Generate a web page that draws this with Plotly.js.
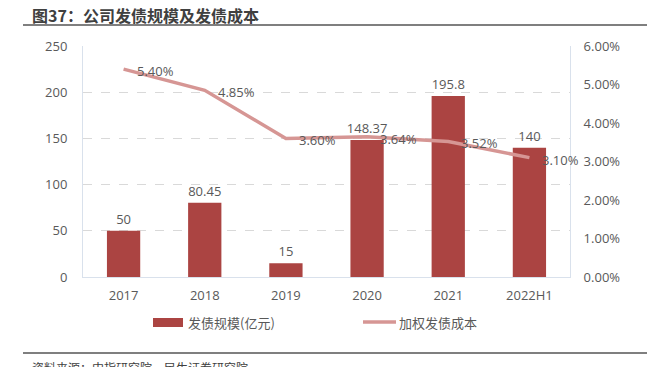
<!DOCTYPE html>
<html><head><meta charset="utf-8">
<script src="https://cdn.plot.ly/plotly-3.0.1.min.js"></script>
<style>body{margin:0;background:#fff}#c{width:647px;height:367px}</style>
</head><body><div id="c"></div>
<script>
const categories = ['2017','2018','2019','2020','2021','2022H1'];
const issueSize = [50, 80.45, 15, 148.37, 195.8, 140];
const issueSizeLabels = ['50','80.45','15','148.37','195.8','140'];
const weightedCost = [0.054, 0.0485, 0.036, 0.0364, 0.0352, 0.031];
const weightedCostLabels = ['5.40%','4.85%','3.60%','3.64%','3.52%','3.10%'];
const seriesNames = ['发债规模(亿元)', '加权发债成本'];

const F = '"Open Sans", "Noto Sans CJK SC", sans-serif';
const CJK = '"Noto Sans CJK SC", sans-serif';
const txt = '#595959';
const barColor = '#AB4442', lineColor = '#D69694';
const traces = [
  {type:'bar', x:categories, y:issueSize, name:seriesNames[0], width:0.41,
   marker:{color:barColor}, text:issueSizeLabels, textposition:'outside', constraintext:'none',
   textfont:{family:F,size:13,color:txt}, cliponaxis:false, hoverinfo:'none'},
  {type:'scatter', mode:'lines', x:categories, y:weightedCost, yaxis:'y2',
   name:seriesNames[1], line:{color:lineColor, width:3.5}, hoverinfo:'none'}
];
const W = 487, H = 231;
const px = x => (x-83)/W, py = y => (277-y)/H;
const ann = weightedCost.map((v,i) => ({x:i, y:v, xref:'x', yref:'y2', text:weightedCostLabels[i],
  showarrow:false, xanchor:'left', yanchor:'middle', xshift:11, yshift:-2, font:{family:F,size:13,color:txt}}));
ann.push(
  {xref:'paper', yref:'paper', x:px(30), y:py(15), xanchor:'left', yanchor:'middle', showarrow:false,
   text:'<b>图37：公司发债规模及发债成本</b>', font:{family:CJK, size:16, color:'#404040'}},
  {xref:'paper', yref:'paper', x:px(30), y:py(367), xanchor:'left', yanchor:'middle', showarrow:false,
   text:'资料来源：中指研究院，民生证券研究院', font:{family:CJK, size:12, color:'#404040'}},
  {xref:'paper', yref:'paper', x:px(186), y:py(322), xanchor:'left', yanchor:'middle', showarrow:false,
   text:seriesNames[0], font:{family:CJK, size:13, color:txt}},
  {xref:'paper', yref:'paper', x:px(397), y:py(322), xanchor:'left', yanchor:'middle', showarrow:false,
   text:seriesNames[1], font:{family:CJK, size:13, color:txt}}
);
const layout = {
  width:647, height:367, margin:{l:83,r:77,t:46,b:90},
  paper_bgcolor:'#fff', plot_bgcolor:'#fff', showlegend:false,
  font:{family:F,size:13,color:txt},
  xaxis:{type:'category', range:[-0.5,5.5], tickfont:{family:F,size:13,color:txt}, showline:true,
         linecolor:'#D9E1EC', linewidth:1, ticks:'outside', ticklen:6, tickcolor:'rgba(0,0,0,0)', showgrid:false},
  yaxis:{range:[0,250], dtick:50, tickfont:{family:F,size:13,color:txt},
         showgrid:true, gridcolor:'#D9D9D9', griddash:'dash', gridwidth:1,
         showline:true, linecolor:'#D9E1EC', zeroline:false, ticklen:12, ticks:'outside', tickcolor:'rgba(0,0,0,0)'},
  yaxis2:{range:[0,0.06], dtick:0.01, tickformat:'.2%', overlaying:'y', side:'right',
          tickfont:{family:F,size:13,color:txt}, showgrid:false, showline:true,
          linecolor:'#D9E1EC', zeroline:false, ticks:'outside', ticklen:10, tickcolor:'rgba(0,0,0,0)'},
  shapes:[
    {type:'line', xref:'paper', yref:'paper', x0:px(23), x1:px(647), y0:py(25), y1:py(25), line:{color:'#555',width:1.5}},
    {type:'line', xref:'paper', yref:'paper', x0:px(23), x1:px(647), y0:py(353), y1:py(353), line:{color:'#555',width:1.5}},
    {type:'rect', xref:'paper', yref:'paper', x0:px(153), x1:px(183), y0:py(318), y1:py(327), fillcolor:barColor, line:{width:0}},
    {type:'line', xref:'paper', yref:'paper', x0:px(363), x1:px(396), y0:py(322), y1:py(322), line:{color:lineColor,width:3.5}}
  ],
  annotations:ann
};
Plotly.newPlot('c', traces, layout, {displayModeBar:false, staticPlot:true});
</script></body></html>
